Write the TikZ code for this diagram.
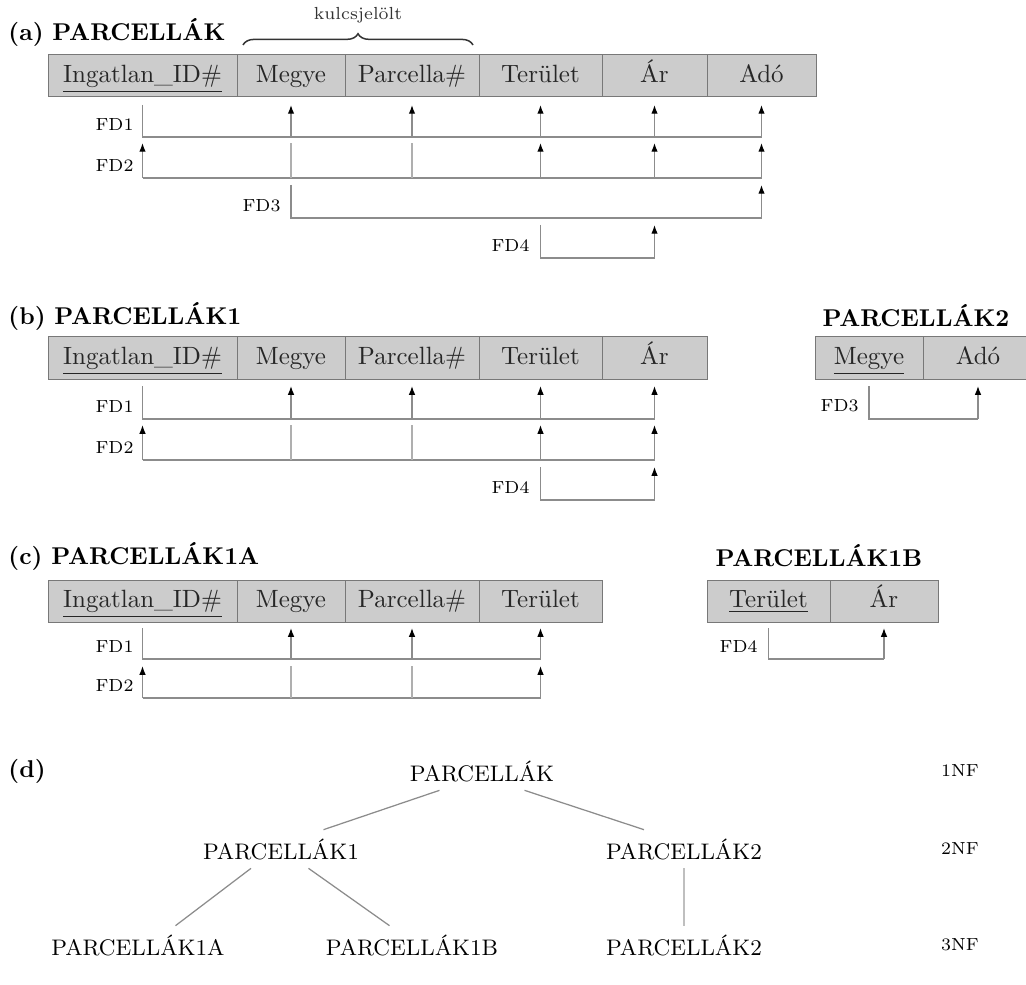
\documentclass[tikz,border=0pt]{standalone}
\usepackage{xcolor}
\usepackage{tikz}
\usetikzlibrary{arrows.meta,positioning,decorations.pathreplacing}
\definecolor{cellgray}{RGB}{204,204,204}
\definecolor{cellline}{RGB}{120,120,120}
\definecolor{fdgray}{RGB}{140,140,140}

\begin{document}
\begin{tikzpicture}[
        x=0.4pt, y=-0.4pt,
        every node/.style={font=\normalsize},
        cell/.style={rectangle, draw=cellline, fill=cellgray, minimum height=16.8pt, inner sep=0pt, outer sep=0pt,
            text height=1.75ex, text depth=0.5ex, text=black!85},
        idcol/.style={cell, minimum width=75.6pt},
        megyecol/.style={cell, minimum width=43.2pt},
        parcellacol/.style={cell, minimum width=53.6pt},
        teruletcol/.style={cell, minimum width=49.2pt},
        arcol/.style={cell, minimum width=42pt},
        adocol/.style={cell, minimum width=43.6pt},
        heading/.style={font=\fontsize{9.7}{11}\selectfont\bfseries, anchor=west, inner sep=0pt},
        fd/.style={draw=fdgray, line width=0.5pt},
        fdplain/.style={draw=fdgray!70, line width=0.5pt},
        fdarrow/.style={fd, -{Latex[color=black, length=3.5pt, width=2.6pt]}},
        fdlabel/.style={font=\scriptsize, anchor=east, inner sep=0pt},
        brace/.style={decorate, decoration={brace, amplitude=4.5pt}, line width=0.6pt, black!80},
        relname/.style={font=\small},
        relline/.style={draw=fdgray, line width=0.5pt},
        nflabel/.style={font=\scriptsize}
    ]
    \useasboundingbox (0,0) rectangle (1026,985);

    % (a) PARCELLAK
    \node[heading] (a-title) at (8,33) {(a)\hspace{3.5pt}PARCELLÁK};
    \node[idcol, anchor=north west] (a-id) at (48,55) {\underline{Ingatlan\_ID\#}};
    \node[megyecol, right=0pt of a-id] (a-megye) {Megye};
    \node[parcellacol, right=0pt of a-megye] (a-parcella) {Parcella\#};
    \node[teruletcol, right=0pt of a-parcella] (a-terulet) {Terület};
    \node[arcol, right=0pt of a-terulet] (a-ar) {Ár};
    \node[adocol, right=0pt of a-ar] (a-ado) {Adó};

    \draw[brace] ([xshift=2.4pt,yshift=4pt]a-megye.north west) -- ([xshift=-2.4pt,yshift=4pt]a-parcella.north east)
        node[midway, above=5pt, font=\scriptsize] (a-key) {kulcsjelölt};

    \coordinate (a-fd1t) at (0,105); \coordinate (a-fd1b) at (0,137);
    \coordinate (a-fd2t) at (0,143); \coordinate (a-fd2b) at (0,178);
    \coordinate (a-fd3t) at (0,185); \coordinate (a-fd3b) at (0,218);
    \coordinate (a-fd4t) at (0,225); \coordinate (a-fd4b) at (0,258);

    % FD1
    \draw[fd] (a-id.south |- a-fd1t) |- (a-ado.south |- a-fd1b);
    \foreach \c in {megye,parcella,terulet,ar,ado}
        \draw[fdarrow] (a-\c.south |- a-fd1b) -- (a-\c.south |- a-fd1t);
    \node[fdlabel] (a-fd1l) at (134,125) {FD1};
    % FD2
    \draw[fd] (a-id.south |- a-fd2b) -- (a-ado.south |- a-fd2b);
    \foreach \c in {megye,parcella}
        \draw[fdplain] (a-\c.south |- a-fd2b) -- (a-\c.south |- a-fd2t);
    \foreach \c in {id,terulet,ar,ado}
        \draw[fdarrow] (a-\c.south |- a-fd2b) -- (a-\c.south |- a-fd2t);
    \node[fdlabel] (a-fd2l) at (134,166) {FD2};
    % FD3
    \draw[fd] (a-megye.south |- a-fd3t) |- (a-ado.south |- a-fd3b);
    \draw[fdarrow] (a-ado.south |- a-fd3b) -- (a-ado.south |- a-fd3t);
    \node[fdlabel] (a-fd3l) at (281,206) {FD3};
    % FD4
    \draw[fd] (a-terulet.south |- a-fd4t) |- (a-ar.south |- a-fd4b);
    \draw[fdarrow] (a-ar.south |- a-fd4b) -- (a-ar.south |- a-fd4t);
    \node[fdlabel] (a-fd4l) at (530,246) {FD4};

    % (b) PARCELLAK1
    \node[heading] (b-title) at (8,316) {(b)\hspace{3.5pt}PARCELLÁK1};
    \node[idcol, anchor=north west] (b-id) at (48,337) {\underline{Ingatlan\_ID\#}};
    \node[megyecol, right=0pt of b-id] (b-megye) {Megye};
    \node[parcellacol, right=0pt of b-megye] (b-parcella) {Parcella\#};
    \node[teruletcol, right=0pt of b-parcella] (b-terulet) {Terület};
    \node[arcol, right=0pt of b-terulet] (b-ar) {Ár};

    \coordinate (b-fd1t) at (0,386); \coordinate (b-fd1b) at (0,419);
    \coordinate (b-fd2t) at (0,425); \coordinate (b-fd2b) at (0,460);
    \coordinate (b-fd4t) at (0,467); \coordinate (b-fd4b) at (0,500);

    \draw[fd] (b-id.south |- b-fd1t) |- (b-ar.south |- b-fd1b);
    \foreach \c in {megye,parcella,terulet,ar}
        \draw[fdarrow] (b-\c.south |- b-fd1b) -- (b-\c.south |- b-fd1t);
    \node[fdlabel] (b-fd1l) at (134,407) {FD1};
    \draw[fd] (b-id.south |- b-fd2b) -- (b-ar.south |- b-fd2b);
    \foreach \c in {megye,parcella}
        \draw[fdplain] (b-\c.south |- b-fd2b) -- (b-\c.south |- b-fd2t);
    \foreach \c in {id,terulet,ar}
        \draw[fdarrow] (b-\c.south |- b-fd2b) -- (b-\c.south |- b-fd2t);
    \node[fdlabel] (b-fd2l) at (134,448) {FD2};
    \draw[fd] (b-terulet.south |- b-fd4t) |- (b-ar.south |- b-fd4b);
    \draw[fdarrow] (b-ar.south |- b-fd4b) -- (b-ar.south |- b-fd4t);
    \node[fdlabel] (b-fd4l) at (530,488) {FD4};

    % PARCELLAK2
    \node[heading] (b2-title) at (822,316) {PARCELLÁK2};
    \node[megyecol, anchor=north west] (b2-megye) at (815,337) {\underline{Megye}};
    \node[adocol, minimum width=44pt, right=0pt of b2-megye] (b2-ado) {Adó};
    \draw[fd] (b2-megye.south |- b-fd1t) |- (b2-ado.south |- b-fd1b);
    \draw[fdarrow] (b2-ado.south |- b-fd1b) -- (b2-ado.south |- b-fd1t);
    \node[fdlabel] (b2-fd3l) at (859,406) {FD3};

    % (c) PARCELLAK1A
    \node[heading] (c-title) at (8,556) {(c)\hspace{3.5pt}PARCELLÁK1A};
    \node[idcol, anchor=north west] (c-id) at (48,580) {\underline{Ingatlan\_ID\#}};
    \node[megyecol, right=0pt of c-id] (c-megye) {Megye};
    \node[parcellacol, right=0pt of c-megye] (c-parcella) {Parcella\#};
    \node[teruletcol, right=0pt of c-parcella] (c-terulet) {Terület};

    \coordinate (c-fd1t) at (0,628); \coordinate (c-fd1b) at (0,659);
    \coordinate (c-fd2t) at (0,666); \coordinate (c-fd2b) at (0,698);

    \draw[fd] (c-id.south |- c-fd1t) |- (c-terulet.south |- c-fd1b);
    \foreach \c in {megye,parcella,terulet}
        \draw[fdarrow] (c-\c.south |- c-fd1b) -- (c-\c.south |- c-fd1t);
    \node[fdlabel] (c-fd1l) at (134,647) {FD1};
    \draw[fd] (c-id.south |- c-fd2b) -- (c-terulet.south |- c-fd2b);
    \foreach \c in {megye,parcella}
        \draw[fdplain] (c-\c.south |- c-fd2b) -- (c-\c.south |- c-fd2t);
    \foreach \c in {id,terulet}
        \draw[fdarrow] (c-\c.south |- c-fd2b) -- (c-\c.south |- c-fd2t);
    \node[fdlabel] (c-fd2l) at (134,686) {FD2};

    % PARCELLAK1B
    \node[heading] (c2-title) at (715,556) {PARCELLÁK1B};
    \node[teruletcol, anchor=north west] (c2-terulet) at (707,580) {\underline{Terület}};
    \node[arcol, minimum width=43.2pt, right=0pt of c2-terulet] (c2-ar) {Ár};
    \draw[fd] (c2-terulet.south |- c-fd1t) |- (c2-ar.south |- c-fd1b);
    \draw[fdarrow] (c2-ar.south |- c-fd1b) -- (c2-ar.south |- c-fd1t);
    \node[fdlabel] (c2-fd4l) at (758,647) {FD4};

    % (d) decomposition
    \node[heading] (d-title) at (8,771) {(d)};
    \node[relname] (t-p) at (482,771) {PARCELLÁK};
    \node[relname] (t-p1) at (281,849) {PARCELLÁK1};
    \node[relname] (t-p2) at (684,849) {PARCELLÁK2};
    \node[relname] (t-p1a) at (138,945) {PARCELLÁK1A};
    \node[relname] (t-p1b) at (412,945) {PARCELLÁK1B};
    \node[relname] (t-p2b) at (684,945) {PARCELLÁK2};
    \node[nflabel] (nf1) at (960,771) {1NF};
    \node[nflabel] (nf2) at (960,849) {2NF};
    \node[nflabel] (nf3) at (960,945) {3NF};

    \draw[relline] ([xshift=-17pt]t-p.south) -- ([xshift=17pt]t-p1.north);
    \draw[relline] ([xshift=17pt]t-p.south) -- ([xshift=-16pt]t-p2.north);
    \draw[relline] ([xshift=-12pt]t-p1.south) -- ([xshift=15pt]t-p1a.north);
    \draw[relline] ([xshift=11pt]t-p1.south) -- ([xshift=-9pt]t-p1b.north);
    \draw[relline, draw=black!25] (t-p2.south) -- (t-p2b.north);
\end{tikzpicture}
\end{document}
